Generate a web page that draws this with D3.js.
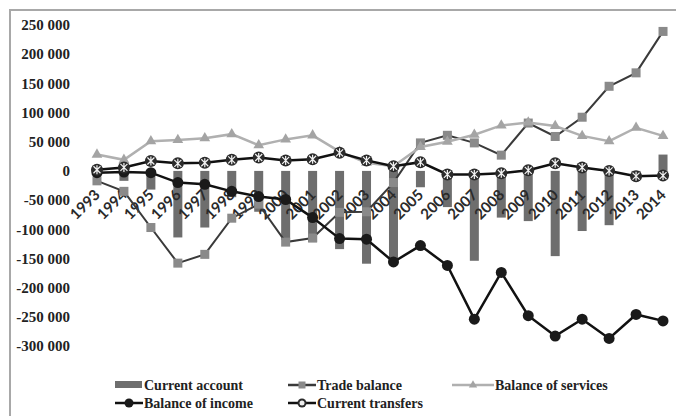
<!DOCTYPE html>
<meta charset="utf-8">
<style>
body { margin: 0; background: #fff; }
.yaxis text { font-family: "Liberation Serif", serif; font-weight: bold; font-size: 15px; fill: #222; }
.xlab { font-family: Lato, "Open Sans", sans-serif; font-weight: bold; font-size: 15px; fill: #2a2a2a; }
.legend text { font-family: "Liberation Serif", serif; font-weight: bold; font-size: 14px; fill: #222; }
</style>
<svg width="676" height="416"></svg>
<script src="https://d3js.org/d3.v7.min.js"></script>
<script>

var years = ["1993","1994","1995","1996","1997","1998","1999","2000","2001","2002","2003",
             "2004","2005","2006","2007","2008","2009","2010","2011","2012","2013","2014"];

var currentAccount = [2000, -17000, -32000, -114000, -97000, -45000, -70000, -118000, -122000, -134000, -159000,
                      -158000, -28000, -62000, -154000, -80000, -86000, -146000, -103000, -93000, -8000, 28000];
var tradeBalance = [-17000, -35000, -97000, -158000, -143000, -81000, -57000, -122000, -115000, -71000, -70000,
                    -20000, 48000, 61000, 48000, 27000, 82000, 59000, 92000, 145000, 168000, 239000];
var servicesBalance = [28000, 19000, 51000, 53000, 56000, 63000, 44000, 54000, 61000, 33000, 14000,
                       8000, 41000, 50000, 62000, 78000, 83000, 77000, 60000, 51000, 74000, 60000];
var incomeBalance = [-3000, -2000, -3000, -20000, -23000, -35000, -44000, -49000, -80000, -116000, -117000,
                     -156000, -128000, -162000, -254000, -174000, -248000, -283000, -254000, -287000, -246000, -257000];
var currentTransfers = [2000, 6000, 17000, 13000, 14000, 19000, 23000, 18000, 20000, 31000, 18000,
                        8000, 15000, -6000, -6000, -4000, 1000, 13000, 6000, 0, -9000, -8000];

var yTicks = [250000, 200000, 150000, 100000, 50000, 0, -50000, -100000, -150000, -200000, -250000, -300000];

var svg = d3.select("svg");

// outer frame
svg.append("rect")
    .attr("x", 10).attr("y", 10)
    .attr("width", 690).attr("height", 430)
    .attr("fill", "none")
    .attr("stroke", "#a8a8a8")
    .attr("stroke-width", 2);

var x = d3.scaleBand()
    .domain(years)
    .range([83.5, 676.5]);

var y = d3.scaleLinear()
    .domain([-300000, 250000])
    .range([346, 25]);

var loc = d3.formatLocale({ decimal: ".", thousands: " ", grouping: [3], currency: ["", ""], minus: "-" });
var fmt = loc.format(",d");

var yAxis = svg.append("g")
    .attr("class", "yaxis")
    .attr("transform", "translate(72,0)")
    .call(d3.axisLeft(y).tickValues(yTicks).tickFormat(fmt).tickSize(0).tickPadding(2));
yAxis.select(".domain").remove();

function cx(d, i) { return x(years[i]) + x.bandwidth() / 2; }

// current account bars
var barW = 9;
svg.append("g").selectAll("rect")
    .data(currentAccount)
    .enter().append("rect")
      .attr("x", function(d, i) { return cx(d, i) - barW / 2; })
      .attr("y", function(d) { return y(Math.max(0, d)); })
      .attr("width", barW)
      .attr("height", function(d) { return Math.abs(y(d) - y(0)); })
      .attr("fill", "#6e6e6e");

// x labels below zero line
svg.append("g").selectAll("text")
    .data(years)
    .enter().append("text")
      .attr("class", "xlab")
      .attr("text-anchor", "end")
      .attr("transform", function(d, i) {
        return "translate(" + (cx(d, i) + 4) + "," + (y(0) + 25) + ") rotate(-45)";
      })
      .text(function(d) { return d; });

var line = d3.line()
    .x(function(d, i) { return cx(d, i); })
    .y(function(d) { return y(d); });

// trade balance
svg.append("path").datum(tradeBalance)
    .attr("d", line).attr("fill", "none")
    .attr("stroke", "#3a3a3a").attr("stroke-width", 2);
svg.append("g").selectAll("rect")
    .data(tradeBalance)
    .enter().append("rect")
      .attr("x", function(d, i) { return cx(d, i) - 4.5; })
      .attr("y", function(d) { return y(d) - 4.5; })
      .attr("width", 9).attr("height", 9)
      .attr("fill", "#8a8a8a");

// balance of services
svg.append("path").datum(servicesBalance)
    .attr("d", line).attr("fill", "none")
    .attr("stroke", "#b0b0b0").attr("stroke-width", 2.5);
var tri = d3.symbol().type(d3.symbolTriangle).size(50);
svg.append("g").selectAll("path")
    .data(servicesBalance)
    .enter().append("path")
      .attr("d", tri)
      .attr("transform", function(d, i) { return "translate(" + cx(d, i) + "," + y(d) + ")"; })
      .attr("fill", "#a4a4a4");

// balance of income
svg.append("path").datum(incomeBalance)
    .attr("d", line).attr("fill", "none")
    .attr("stroke", "#111").attr("stroke-width", 2.5);
svg.append("g").selectAll("circle")
    .data(incomeBalance)
    .enter().append("circle")
      .attr("cx", function(d, i) { return cx(d, i); })
      .attr("cy", function(d) { return y(d); })
      .attr("r", 5.5)
      .attr("fill", "#1a1a1a");

// current transfers
svg.append("path").datum(currentTransfers)
    .attr("d", line).attr("fill", "none")
    .attr("stroke", "#111").attr("stroke-width", 2.5);
var tm = svg.append("g").selectAll("g")
    .data(currentTransfers)
    .enter().append("g")
      .attr("transform", function(d, i) { return "translate(" + cx(d, i) + "," + y(d) + ")"; });
tm.append("circle").attr("r", 6).attr("fill", "#2b2b2b");
tm.append("path")
    .attr("d", "M-3.5,-3.5L3.5,3.5M-3.5,3.5L3.5,-3.5M0,-4.5L0,4.5")
    .attr("stroke", "#f2f2f2").attr("stroke-width", 1.2);

// legend
var legend = svg.append("g").attr("class", "legend");
var items = [
  { name: "Current account", x: 115, y: 385, type: "bar" },
  { name: "Trade balance", x: 288, y: 385, type: "trade" },
  { name: "Balance of services", x: 452, y: 385, type: "services" },
  { name: "Balance of income", x: 115, y: 403, type: "income" },
  { name: "Current transfers", x: 288, y: 403, type: "transfers" }
];
items.forEach(function(it) {
  var g = legend.append("g").attr("transform", "translate(" + it.x + "," + it.y + ")");
  var w = it.type === "services" ? 42 : 28;
  if (it.type === "bar") {
    g.append("rect").attr("x", 0).attr("y", -4).attr("width", 27).attr("height", 7).attr("fill", "#6e6e6e");
  } else {
    var col = { trade: "#3a3a3a", services: "#b0b0b0", income: "#111", transfers: "#111" }[it.type];
    g.append("line").attr("x1", 0).attr("x2", w).attr("y1", 0).attr("y2", 0)
        .attr("stroke", col).attr("stroke-width", 2.5);
    if (it.type === "trade") {
      g.append("rect").attr("x", w / 2 - 3.5).attr("y", -3.5).attr("width", 7).attr("height", 7).attr("fill", "#8a8a8a");
    } else if (it.type === "services") {
      g.append("path").attr("d", d3.symbol().type(d3.symbolTriangle).size(30))
          .attr("transform", "translate(" + (w / 2) + ",0)").attr("fill", "#a4a4a4");
    } else if (it.type === "income") {
      g.append("circle").attr("cx", w / 2).attr("r", 4.5).attr("fill", "#1a1a1a");
    } else {
      g.append("circle").attr("cx", w / 2).attr("r", 4.5).attr("fill", "#2b2b2b");
      g.append("circle").attr("cx", w / 2).attr("r", 2.5).attr("fill", "#eee");
    }
  }
  g.append("text").attr("x", w + 1).attr("dy", "0.35em").text(it.name);
});

</script>
